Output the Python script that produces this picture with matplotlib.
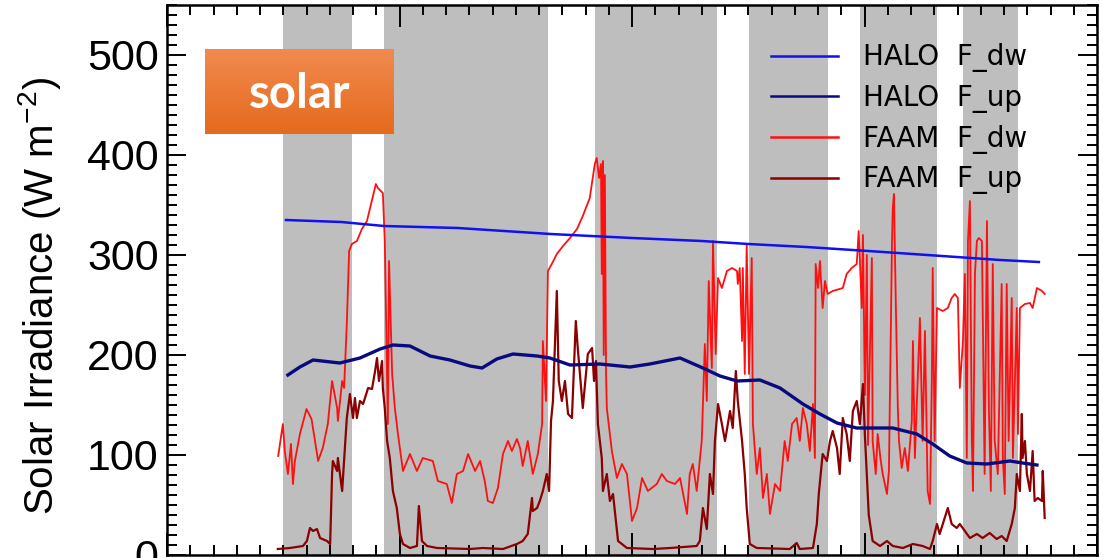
import numpy as np
import matplotlib
matplotlib.use("Agg")
import matplotlib.pyplot as plt
from matplotlib.ticker import MultipleLocator

# ---------------- data (time in minutes from start of window) ----------------
gray_band_start = [30.0, 56.0, 110.4, 150.2, 178.8, 205.4]
gray_band_end = [47.7, 98.3, 141.9, 170.5, 198.7, 219.6]

halo_dw_t = [30.7, 45, 56, 75, 99, 120, 138, 150, 165, 181, 200, 215, 225]
halo_dw_v = [335, 333, 329, 327, 321, 317, 314, 311, 308, 304, 299, 295, 293]

halo_up_t = [31.2, 34.3, 37.7, 44.6, 49.8, 55.0, 58.3, 62.7, 67.9, 73.0, 78.2, 81.3,
             85.1, 89.3, 95.5, 98.8, 104.0, 111.7, 119.5, 124.6, 129.8, 132.4, 138.3,
             142.7, 147.1, 153.0, 158.2, 164.1, 168.5, 172.9, 178.0, 187.3, 193.5,
             197.6, 202.0, 206.4, 211.6, 217.5, 220.8, 224.5]
halo_up_v = [180, 188, 195, 192, 197, 206, 210, 209, 199, 195, 189, 187,
             196, 201, 199, 197, 190, 191, 188, 191, 195, 197, 187,
             179, 174, 175, 167, 151, 141, 132, 127, 127, 121,
             111, 99, 92, 91, 94, 92, 90]

faam_dw_t = [28.7, 29.9, 30.4, 31.2, 32.0, 32.5, 33.0, 34.3, 36.0, 37.3, 39.0, 40.2,
             41.5, 42.6, 43.9, 44.1, 45.2, 45.7, 46.4, 47.0, 47.7, 49.0, 50.3, 51.6,
             52.4, 53.9, 54.4, 55.7, 56.2, 56.8, 57.0, 57.3, 58.1, 58.8, 59.6, 60.9,
             62.7, 64.5, 66.0, 68.6, 69.9, 72.2, 73.5, 74.8, 76.4, 77.7, 79.5, 80.8,
             82.0, 82.8, 84.1, 85.4, 86.7, 88.0, 89.0, 90.3, 91.1, 91.8, 93.1, 94.4,
             95.7, 96.8, 97.0, 97.8, 98.3, 99.3, 100.6, 102.2, 104.0, 105.8, 107.3,
             109.1, 110.4, 110.9, 111.5, 112.0, 112.2, 112.5, 112.7, 113.0, 113.3,
             113.5, 114.8, 116.1, 117.4, 118.7, 120.0, 121.3, 122.6, 124.1, 126.4,
             127.7, 129.0, 131.1, 132.4, 134.2, 134.9, 135.7, 136.7, 138.0, 138.8,
             139.3, 139.8, 140.6, 140.9, 141.6, 142.2, 143.2, 144.5, 145.8, 147.1,
             147.3, 147.8, 148.4, 148.6, 149.1, 149.6, 150.2, 150.9, 151.2, 152.2,
             153.0, 153.8, 154.8, 155.6, 156.9, 158.2, 159.4, 160.2, 161.3, 162.5,
             163.3, 164.1, 165.1, 165.9, 166.7, 167.2, 167.4, 168.0, 168.5, 169.2,
             169.8, 170.5, 171.8, 174.4, 175.4, 176.7, 178.0, 178.5, 179.3, 179.6,
             180.1, 180.6, 180.9, 181.9, 182.1, 182.9, 183.4, 184.2, 184.7, 185.8,
             186.3, 187.1, 187.3, 187.6, 188.1, 188.6, 188.9, 189.6, 190.4, 191.2,
             192.2, 192.5, 193.0, 194.3, 195.0, 195.6, 196.3, 196.9, 197.4, 197.6,
             198.1, 198.7, 200.2, 201.5, 202.5, 203.3, 204.1, 204.6, 205.4, 205.9,
             206.4, 206.7, 207.2, 207.7, 208.0, 208.5, 209.0, 209.5, 210.3, 210.5,
             211.0, 211.6, 212.1, 212.6, 213.1, 213.6, 214.4, 215.4, 215.7, 216.2,
             216.7, 217.2, 218.0, 218.3, 219.3, 219.6, 220.1, 221.4, 222.7, 223.4,
             224.5, 225.8, 226.5]
faam_dw_v = [99, 131, 104, 81, 111, 71, 94, 121, 146, 136, 94, 107,
             131, 174, 147, 134, 174, 167, 231, 304, 311, 314, 326, 334,
             347, 371, 367, 362, 314, 181, 131, 294, 181, 147, 121, 84,
             101, 84, 97, 94, 74, 71, 52, 81, 84, 101, 84, 94,
             74, 54, 52, 67, 101, 114, 104, 116, 107, 89, 114, 81,
             101, 131, 214, 154, 284, 291, 301, 309, 317, 326, 339,
             357, 391, 397, 377, 391, 281, 394, 200, 380, 181,
             147, 104, 77, 91, 81, 34, 47, 77, 64, 71,
             81, 74, 71, 77, 41, 81, 91, 64, 114, 211,
             154, 274, 187, 314, 201, 277, 267, 284, 287, 284,
             271, 287, 214, 287, 181, 311, 181, 297, 131, 81,
             107, 57, 81, 41, 71, 64, 114, 94, 131, 137,
             114, 147, 131, 104, 151, 97, 291, 267, 294, 247,
             274, 261, 264, 267, 281, 287, 291, 324, 247, 320,
             160, 300, 110, 297, 114, 81, 121, 94, 81, 61,
             84, 314, 347, 361, 247, 147, 114, 87, 107, 84,
             134, 214, 97, 237, 114, 224, 64, 51, 181, 287,
             114, 247, 244, 247, 257, 261, 257, 167, 214, 281,
             97, 314, 354, 114, 64, 281, 314, 317, 314, 247,
             81, 334, 147, 64, 291, 114, 81, 271, 97, 61,
             271, 114, 257, 97, 247, 121, 247, 251, 252, 247,
             267, 264, 261]

faam_up_t = [28.6, 31.7, 35.1, 36.1, 36.9, 37.7, 38.7, 39.5, 41.3, 42.1, 42.6, 42.8,
             43.9, 44.1, 45.2, 45.9, 46.4, 47.2, 48.0, 48.5, 49.0, 49.8, 50.6, 51.9,
             52.9, 53.7, 54.2, 54.7, 55.5, 55.7, 56.2, 56.8, 57.5, 58.3, 59.3, 60.1,
             60.9, 62.7, 64.5, 65.0, 65.8, 67.1, 69.7, 78.2, 81.5, 86.7, 90.3, 91.8,
             93.1, 94.2, 94.4, 95.5, 96.2, 97.0, 98.0, 98.6, 99.1, 99.6, 100.6, 101.1,
             101.9, 102.7, 103.5, 104.5, 105.5, 106.0, 107.3, 108.6, 109.7, 110.2,
             110.7, 111.2, 112.2, 112.5, 113.5, 114.3, 115.1, 116.4, 118.7, 125.4,
             129.8, 136.7, 137.5, 138.3, 139.3, 140.1, 140.9, 141.4, 142.2, 143.2,
             144.0, 145.3, 146.0, 146.8, 147.3, 148.4, 149.1, 149.6, 150.4, 152.2,
             160.7, 162.5, 163.3, 166.7, 167.7, 168.2, 169.2, 170.3, 171.1, 171.8,
             172.9, 173.6, 174.4, 175.4, 176.2, 177.0, 178.0, 178.8, 179.6, 180.1,
             180.6, 181.1, 182.1, 184.0, 185.8, 187.3, 189.9, 192.5, 195.0, 196.9,
             197.6, 198.7, 199.4, 200.2, 201.5, 202.5, 203.8, 204.6, 205.9, 207.2,
             209.0, 210.5, 212.3, 214.1, 215.4, 216.7, 218.0, 218.8, 219.3, 220.1,
             220.6, 220.8, 221.4, 221.9, 222.7, 223.4, 223.9, 224.7, 225.8, 226.0,
             226.5]
faam_up_v = [6, 7, 9, 14, 27, 24, 26, 17, 14, 11, 81, 94,
             84, 97, 64, 107, 137, 161, 137, 157, 137, 154, 151, 167,
             166, 184, 197, 174, 194, 167, 147, 114, 97, 64, 47, 21,
             11, 7, 9, 49, 14, 9, 7, 6, 7, 6, 11, 14,
             21, 57, 44, 47, 54, 64, 81, 64, 134, 154, 264, 174,
             154, 174, 141, 137, 234, 207, 147, 201, 207, 174,
             194, 131, 97, 64, 81, 54, 61, 14, 7, 6,
             7, 9, 14, 47, 26, 81, 61, 114, 151, 131,
             114, 144, 127, 184, 154, 114, 81, 47, 11, 7,
             6, 12, 6, 7, 31, 61, 101, 94, 114, 124,
             107, 81, 137, 121, 94, 144, 154, 131, 171, 120,
             80, 40, 14, 9, 14, 9, 7, 11, 9, 6,
             14, 31, 21, 31, 47, 31, 27, 31, 24, 17,
             21, 17, 22, 16, 19, 14, 31, 47, 81, 64,
             141, 97, 114, 81, 64, 104, 54, 57, 54, 84,
             37]

legend_labels = ["HALO  F_dw", "HALO  F_up", "FAAM  F_dw", "FAAM  F_up"]
series_colors = ["#1010f0", "#0a0a80", "#ff1010", "#8b0000"]
ylabel_text = "Solar Irradiance (W m$^{\\mathregular{-2}}$)"
badge_text = "solar"

# ---------------- figure ----------------
W, H = 1119, 558
fig = plt.figure(figsize=(W / 100, H / 100), dpi=100)
ax = fig.add_axes([167 / W, 3 / H, 930 / W, 550 / H])

for s, e in zip(gray_band_start, gray_band_end):
    ax.axvspan(s, e, color="#bebebe", lw=0, zorder=0)

l1, = ax.plot(halo_dw_t, halo_dw_v, color=series_colors[0], lw=1.8, zorder=3)
l2, = ax.plot(halo_up_t, halo_up_v, color=series_colors[1], lw=2.4, zorder=3)
l3, = ax.plot(faam_dw_t, faam_dw_v, color=series_colors[2], lw=1.3, zorder=2)
l4, = ax.plot(faam_up_t, faam_up_v, color=series_colors[3], lw=1.6, zorder=2)

ax.set_xlim(0, 240)
ax.set_ylim(0, 550)
ax.xaxis.set_major_locator(MultipleLocator(60))
ax.xaxis.set_minor_locator(MultipleLocator(6))
ax.yaxis.set_major_locator(MultipleLocator(100))
ax.yaxis.set_minor_locator(MultipleLocator(10))
ax.tick_params(axis="both", which="both", direction="in", top=True, right=True,
               width=1.4, colors="black")
ax.tick_params(axis="x", which="major", length=16)
ax.tick_params(axis="x", which="minor", length=7)
ax.tick_params(axis="y", which="major", length=14)
ax.tick_params(axis="y", which="minor", length=7)
ax.tick_params(axis="x", labelbottom=False)
ax.tick_params(axis="y", labelsize=31, pad=6)
for lab in ax.get_yticklabels():
    lab.set_fontfamily("Liberation Sans")
for sp in ax.spines.values():
    sp.set_linewidth(1.8)

ax.set_ylabel(ylabel_text, fontsize=29, fontfamily="Liberation Sans")
ax.yaxis.set_label_coords(-0.112, 0.47)

leg = ax.legend([l1, l2, l3, l4], legend_labels, loc="upper left",
                bbox_to_anchor=((771 - 167) / 930, 0.93), frameon=False,
                fontsize=20, handlelength=2.4, handletextpad=0.9,
                labelspacing=0.42, borderpad=0, borderaxespad=0)
for t in leg.get_texts():
    t.set_fontfamily("DejaVu Sans")
for h in leg.get_lines():
    h.set_linewidth(1.8)

# orange "solar" badge with vertical gradient
bx0, by0 = 205 / W, (H - 134) / H
bw, bh = (394 - 205) / W, (134 - 49) / H
bax = fig.add_axes([bx0, by0, bw, bh])
top = np.array([241, 138, 80]) / 255
bot = np.array([229, 106, 28]) / 255
grad = np.linspace(0, 1, 100)[:, None]
img = top[None, None, :] * (1 - grad[:, :, None]) + bot[None, None, :] * grad[:, :, None]
bax.imshow(np.repeat(img, 2, axis=1), aspect="auto", extent=[0, 1, 0, 1])
bax.set_axis_off()
bax.text(0.5, 0.47, badge_text, color="white", fontsize=34, fontweight="bold",
         fontfamily="Lato", ha="center", va="center", transform=bax.transAxes)

fig.savefig("out.png", dpi=100)
